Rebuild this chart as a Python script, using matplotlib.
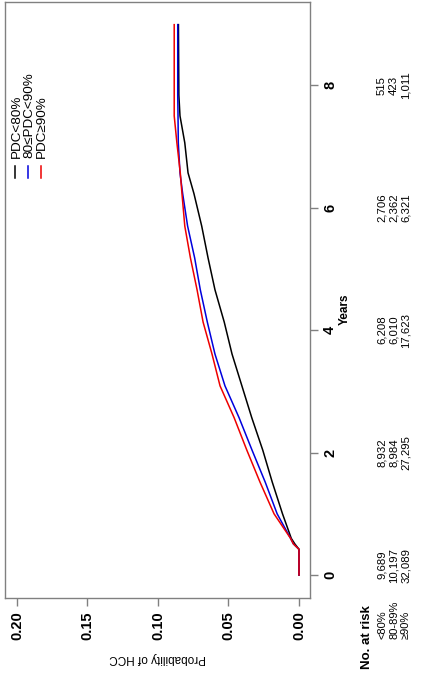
import matplotlib
matplotlib.use("Agg")
import matplotlib.pyplot as plt
from matplotlib.transforms import blended_transform_factory, ScaledTranslation

# Cumulative incidence of HCC by PDC adherence group
years = [0.0, 0.42, 0.51, 0.60, 1.0, 1.52, 2.04, 2.57, 3.09, 3.61, 4.13,
         4.66, 5.18, 5.70, 6.23, 6.57, 7.06, 7.5, 7.84, 8.99]
prob_lt80 = [0.0, 0.0, 0.003, 0.0055, 0.0117, 0.019, 0.0257, 0.0335, 0.0405,
             0.0475, 0.053, 0.0596, 0.0645, 0.069, 0.0745, 0.0787, 0.081,
             0.0844, 0.0852, 0.0855]
prob_80_90 = [0.0, 0.0, 0.004, 0.006, 0.0155, 0.024, 0.0333, 0.0425, 0.0525,
              0.0596, 0.065, 0.070, 0.074, 0.079, 0.0825, 0.0844, 0.0856,
              0.0858, 0.086, 0.086]
prob_ge90 = [0.0, 0.0, 0.004, 0.006, 0.0177, 0.0277, 0.037, 0.046, 0.056,
             0.0617, 0.068, 0.0723, 0.077, 0.081, 0.083, 0.0842, 0.0866,
             0.0885, 0.0885, 0.0885]

group_labels = ["PDC<80%", "80\u2264PDC<90%", "PDC\u226590%"]
group_colors = ["black", "#0000dd", "#ee0000"]

prob_ticks = [0.00, 0.05, 0.10, 0.15, 0.20]
year_ticks = [0, 2, 4, 6, 8]

risk_groups = ["<80%", "80-89%", "\u226590%"]
risk_lt80 = ["9,689", "8,932", "6,208", "2,706", "515"]
risk_80_90 = ["10,197", "8,984", "6,010", "2,362", "423"]
risk_ge90 = ["32,089", "27,295", "17,623", "6,321", "1,011"]

W, H = 422, 676
plt.rcParams["font.family"] = ["Liberation Sans", "DejaVu Sans"]
fig = plt.figure(figsize=(W / 100, H / 100), dpi=100)


def fx(px):
    return px / W


def fy(py):
    return 1 - py / H


# Axes box in pixel terms: left 5, right 310, top 2, bottom 598
ax = fig.add_axes([fx(5), fy(598), fx(310) - fx(5), fy(2) - fy(598)])

series = [prob_lt80, prob_80_90, prob_ge90]
for vals, col in zip(series, group_colors):
    ax.plot(vals, years, color=col, lw=1.1, solid_joinstyle="miter")

ax.set_xlim(0.2085, -0.0078)
ax.set_ylim(-0.375, 9.36)

spine_col = "#808080"
for s in ax.spines.values():
    s.set_color(spine_col)
    s.set_linewidth(1.0)

ax.set_xticks(prob_ticks)
ax.set_xticklabels([f"{t:.2f}" for t in prob_ticks])
ax.yaxis.tick_right()
ax.set_yticks(year_ticks)
ax.set_yticklabels([str(t) for t in year_ticks])
ax.tick_params(axis="both", direction="out", length=5.5, width=1.0,
               color=spine_col, labelsize=10.5)
ax.tick_params(axis="x", labelrotation=90, pad=4)
ax.tick_params(axis="y", labelrotation=90, pad=4)
for lab in ax.get_xticklabels() + ax.get_yticklabels():
    lab.set_fontweight("bold")
for lab in ax.get_yticklabels():
    lab.set_verticalalignment("center")

# Axis titles
fig.text(fx(157.5), fy(658), "Probability of HCC", rotation=180,
         ha="center", va="center", fontsize=8.5)
yr_tr = blended_transform_factory(fig.transFigure, ax.transAxes)
fig.text(fx(345), 0.485, "Years", rotation=90, ha="center", va="center",
         fontsize=8.5, fontweight="bold", transform=yr_tr)

# Legend: short vertical keys with labels reading upward
for i, (lab, col) in enumerate(zip(group_labels, group_colors)):
    x = 15.5 + i * 12.8
    fig.add_artist(plt.Line2D([fx(x), fx(x)], [fy(178), fy(166)],
                              color=col, lw=1.1, transform=fig.transFigure))
    fig.text(fx(x + 1), fy(158), lab, rotation=90, ha="center", va="bottom",
             fontsize=9.7)

# Numbers at risk
fig.text(fx(367), fy(605), "No. at risk", rotation=90, ha="center",
         va="top", fontsize=9.5, fontweight="bold")
row_x = [382, 394, 406]
risk_rows = [risk_lt80, risk_80_90, risk_ge90]
tr = blended_transform_factory(fig.transFigure, ax.transData)
# the first column is nudged upward so it stays clear of the group names
first_col_tr = tr + ScaledTranslation(0, 10 / 100, fig.dpi_scale_trans)
for rx, gname, row in zip(row_x, risk_groups, risk_rows):
    fig.text(fx(rx), fy(639), gname, rotation=90, ha="center", va="bottom",
             fontsize=8.0)
    for j, (yv, n) in enumerate(zip(year_ticks, row)):
        fig.text(fx(rx), yv, n, rotation=90, ha="center", va="center",
                 fontsize=8.2, transform=first_col_tr if j == 0 else tr)

fig.savefig("out.png", dpi=100)
